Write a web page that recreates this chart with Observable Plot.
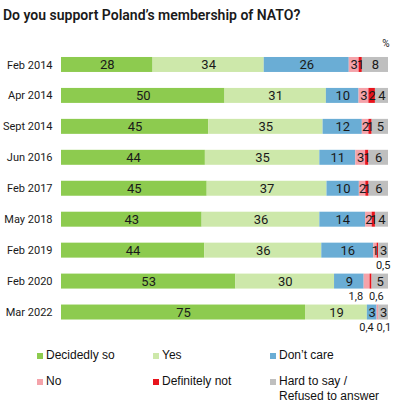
<!DOCTYPE html>
<html><head><meta charset="utf-8">
<script src="https://cdn.jsdelivr.net/npm/d3@7"></script>
<script src="https://cdn.jsdelivr.net/npm/@observablehq/plot@0.6"></script>
<style>
body{margin:0;background:#fff;font-family:Roboto,sans-serif;}
#wrap{width:397px;height:416px;position:relative;overflow:hidden;}
#title{position:absolute;left:3px;top:7px;font-size:14px;font-weight:600;color:#1a1a1a;white-space:nowrap;}
#chart{position:absolute;left:0;top:30px;}
#legend{position:absolute;left:0;top:0;width:397px;height:416px;font-family:"Liberation Sans",Arial,sans-serif;font-size:12px;color:#111;}
.item{position:absolute;display:flex;align-items:flex-start;line-height:15px;}
.sw{width:6px;height:6px;margin-top:5px;margin-right:3px;flex:none;}
</style></head>
<body><div id="wrap"><div id="title">Do you support Poland’s membership of NATO?</div><div id="chart"></div><div id="legend"></div></div>
<script>
const dates = ["Feb 2014","Apr 2014","Sept 2014","Jun 2016","Feb 2017","May 2018","Feb 2019","Feb 2020","Mar 2022"];
const categories = ["Decidedly so","Yes","Don’t care","No","Definitely not","Hard to say / Refused to answer"];
const legendLabels = ["Decidedly so","Yes","Don’t care","No","Definitely not","Hard to say /<br>Refused to answer"];
const decidedlySo   = [28,50,45,44,45,43,44,53,75];
const yes           = [34,31,35,35,37,36,36,30,19];
const dontCare      = [26,10,12,11,10,14,16,9,3];
const no            = [3,3,2,3,2,2,1,1.8,0.4];
const definitelyNot = [1,2,1,1,1,1,0.5,0.6,0.1];
const hardToSay     = [8,4,5,6,6,4,3,5,3];
const colors = ["#8dcb4f","#cde8aa","#6aadd5","#f4a3aa","#e8141c","#bfbfbf"];

const series = [decidedlySo, yes, dontCare, no, definitelyNot, hardToSay];
const data = dates.flatMap((d, i) => categories.map((c, j) => ({date: d, cat: c, value: series[j][i]})));
const fmt = v => String(v).replace(".", ",");
const st = {x: "value", y: "date", z: "cat", order: categories, offset: "normalize"};

const chart = Plot.plot({
  width: 397, height: 316,
  marginLeft: 61, marginRight: 9, marginTop: 19, marginBottom: 18.5,
  style: {fontFamily: "Roboto, sans-serif", fontSize: "11px", color: "#1a1a1a", background: "white"},
  x: {axis: null, domain: [0, 1]},
  y: {domain: dates, paddingInner: 0.516, paddingOuter: 0.258, round: false, tickSize: 0, tickPadding: 9, label: null},
  color: {domain: categories, range: colors},
  marks: [
    Plot.barX(data, Plot.stackX({...st, fill: "cat"})),
    Plot.text(data, Plot.stackX({...st, text: d => Number.isInteger(d.value) ? fmt(d.value) : "", fontSize: 13, fill: "#1a1a1a"})),
    Plot.text(data, Plot.stackX({...st, text: d => (!Number.isInteger(d.value) && d.cat === categories[3]) ? fmt(d.value) : "", fontSize: 11, fill: "#1a1a1a", textAnchor: "end", dx: -4, dy: 15})),
    Plot.text(data, Plot.stackX({...st, text: d => (!Number.isInteger(d.value) && d.cat === categories[4]) ? fmt(d.value) : "", fontSize: 11, fill: "#1a1a1a", textAnchor: "start", dx: -2, dy: 15})),
    Plot.text(["%"], {frameAnchor: "top-right", lineAnchor: "middle", dx: 1, dy: -6, fontSize: 10, fill: "#1a1a1a"})
  ]
});
document.getElementById("chart").appendChild(chart);

const lg = document.getElementById("legend");
const cols = [37, 153, 270];
const rows = [348, 374];
categories.forEach((c, j) => {
  const it = document.createElement("div");
  it.className = "item";
  it.style.left = cols[j % 3] + "px";
  it.style.top = rows[Math.floor(j / 3)] + "px";
  it.innerHTML = `<span class="sw" style="background:${colors[j]}"></span><span>${legendLabels[j]}</span>`;
  lg.appendChild(it);
});
</script>
</body></html>
